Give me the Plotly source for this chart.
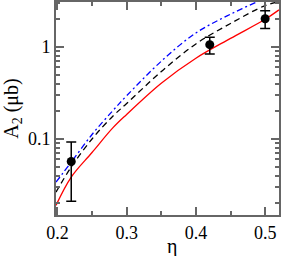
import plotly.graph_objects as go

# theory curves
eta = [0.198, 0.22, 0.25, 0.28, 0.30, 0.35, 0.40, 0.45, 0.50, 0.52]
a2_red = [0.019, 0.0386, 0.0713, 0.132, 0.185, 0.404, 0.755, 1.24, 2.0, 2.53]
a2_black = [0.0265, 0.0496, 0.100, 0.177, 0.243, 0.54, 1.08, 1.80, 2.82, 3.1]
a2_blue = [0.034, 0.056, 0.112, 0.203, 0.295, 0.70, 1.42, 2.27, 3.40, 4.0]

# data points
eta_pts = [0.22, 0.42, 0.50]
a2_pts = [0.057, 1.06, 2.03]
a2_err = [0.036, 0.22, 0.44]

x_ticks = [0.2, 0.3, 0.4, 0.5]
x_ticktext = ["0.2", "0.3", "0.4", "0.5"]
x_minor = [0.25, 0.35, 0.45]
y_ticks = [0.1, 1]
y_ticktext = ["0.1", "1"]
y_minor = [0.02, 0.03, 0.04, 0.05, 0.06, 0.07, 0.08, 0.09,
           0.2, 0.3, 0.4, 0.5, 0.6, 0.7, 0.8, 0.9, 2, 3]

fig = go.Figure()
fig.add_trace(go.Scatter(x=eta, y=a2_red, mode="lines", line_shape="spline",
                         line=dict(color="#ff0000", width=1.3)))
fig.add_trace(go.Scatter(x=eta, y=a2_black, mode="lines", line_shape="spline",
                         line=dict(color="#000000", width=1.3, dash="6px,4px")))
fig.add_trace(go.Scatter(x=eta, y=a2_blue, mode="lines", line_shape="spline",
                         line=dict(color="#0000ff", width=1.3, dash="6px,3px,2px,3px")))
fig.add_trace(go.Scatter(x=eta_pts, y=a2_pts, mode="markers",
                         marker=dict(color="black", size=9),
                         error_y=dict(type="data", array=a2_err, color="black",
                                      thickness=1.5, width=5)))

serif = "Liberation Serif"
tickfont = dict(family=serif, size=18, color="black")
axcol = "#666666"
fig.update_layout(
    width=282, height=256,
    margin=dict(l=56, r=3, t=2, b=41),
    paper_bgcolor="white", plot_bgcolor="white",
    showlegend=False,
    font=dict(family=serif, size=18, color="black"),
    xaxis=dict(range=[0.198, 0.52], tickmode="array", tickvals=x_ticks,
               ticktext=x_ticktext, ticks="inside", ticklen=8, tickwidth=1.5,
               tickcolor=axcol, showline=True, linecolor=axcol, linewidth=2,
               mirror="ticks", showgrid=False, zeroline=False, automargin=False,
               minor=dict(tickvals=x_minor, ticks="inside", ticklen=4,
                          tickwidth=1.5, tickcolor=axcol, showgrid=False),
               tickfont=tickfont),
    yaxis=dict(type="log", range=[-1.826, 0.489], tickmode="array",
               tickvals=y_ticks, ticktext=y_ticktext, ticks="inside",
               ticklen=8, tickwidth=1.5, tickcolor=axcol, showline=True,
               linecolor=axcol, linewidth=2, mirror="ticks", showgrid=False,
               zeroline=False, automargin=False,
               minor=dict(tickvals=y_minor, ticks="inside", ticklen=4,
                          tickwidth=1.5, tickcolor=axcol, showgrid=False),
               title=dict(text="A<sub>2</sub> (μb)",
                          font=dict(family=serif, size=20, color="black"),
                          standoff=6),
               tickfont=tickfont),
    annotations=[dict(text="η", xref="paper", yref="paper", x=0.52, y=-0.148,
                      xanchor="center", yanchor="middle", showarrow=False,
                      font=dict(family=serif, size=20, color="black"))],
)
fig.write_html("out.html", config={"displayModeBar": False},
               post_script="document.body.style.margin='0';document.body.style.overflow='hidden';")
